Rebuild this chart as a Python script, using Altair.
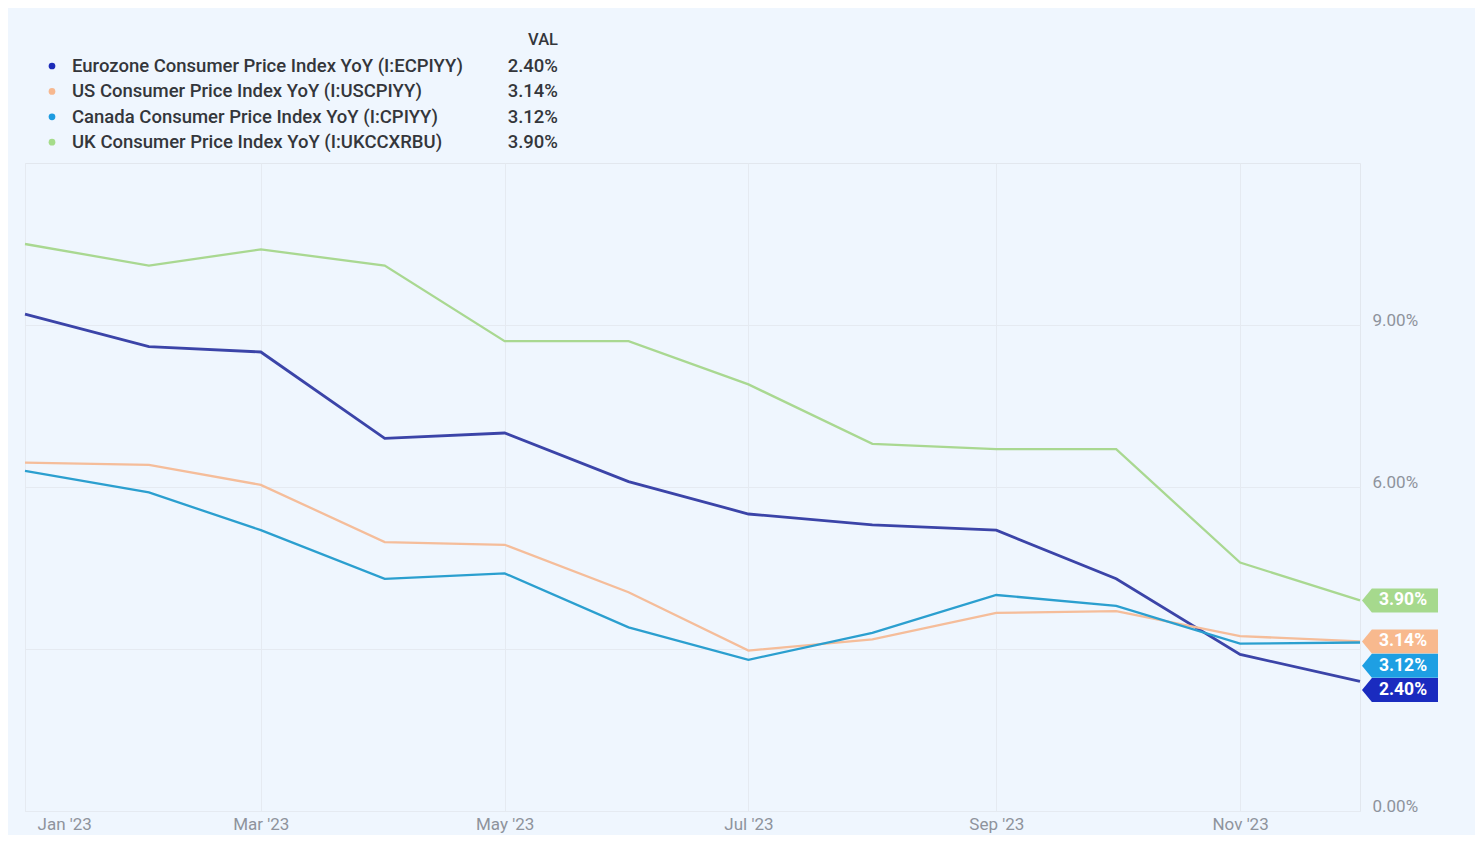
import altair as alt
import pandas as pd

# ---------------- data ----------------
months = ["2023-01-01", "2023-02-01", "2023-03-01", "2023-04-01", "2023-05-01", "2023-06-01",
          "2023-07-01", "2023-08-01", "2023-09-01", "2023-10-01", "2023-11-01", "2023-12-01"]

series_names = [
    "Eurozone Consumer Price Index YoY (I:ECPIYY)",
    "US Consumer Price Index YoY (I:USCPIYY)",
    "Canada Consumer Price Index YoY (I:CPIYY)",
    "UK Consumer Price Index YoY (I:UKCCXRBU)",
]
eurozone = [9.2, 8.6, 8.5, 6.9, 7.0, 6.1, 5.5, 5.3, 5.2, 4.3, 2.9, 2.40]
us = [6.45, 6.41, 6.04, 4.98, 4.93, 4.05, 2.97, 3.18, 3.67, 3.70, 3.24, 3.14]
canada = [6.3, 5.9, 5.2, 4.3, 4.4, 3.4, 2.8, 3.3, 4.0, 3.8, 3.1, 3.12]
uk = [10.5, 10.1, 10.4, 10.1, 8.7, 8.7, 7.9, 6.8, 6.7, 6.7, 4.6, 3.90]
values_list = [eurozone, us, canada, uk]

line_colors = ["#3b44a8", "#f5bd9a", "#2b9fcf", "#a9d891"]
dot_colors = ["#1c2bb8", "#f7b88f", "#1d9be0", "#a5dc8a"]
tag_colors = ["#1a2bbf", "#f8b98e", "#1e9fe3", "#a6d98d"]

y_ticks = [0, 3, 6, 9]
x_ticks = [1, 3, 5, 7, 9, 11]

FONT = "Roboto"
W, H = 1335, 648
TOP = 155

rows = []
for name, vals in zip(series_names, values_list):
    for d, v in zip(months, vals):
        rows.append({"date": d, "value": v, "series": name})
df = pd.DataFrame(rows)

# ---------------- lines ----------------
x_enc = alt.X(
    "date:T",
    scale=alt.Scale(type="utc",
                    domain=[alt.DateTime(year=2023, month=1, date=1, utc=True),
                            alt.DateTime(year=2023, month=12, date=1, utc=True)]),
    axis=alt.Axis(
        values=[alt.DateTime(year=2023, month=m, date=1, utc=True) for m in x_ticks],
        format="%b '%y", title=None, grid=True, gridColor="#e5eaf1", domain=False,
        ticks=False, labelPadding=5, labelFontSize=17, labelColor="#8e939c",
        labelFont=FONT, labelFlush=True, labelFlushOffset=-12,
    ),
)
y_enc = alt.Y(
    "value:Q",
    scale=alt.Scale(domain=[0, 12], nice=False, zero=False),
    axis=alt.Axis(
        orient="right", values=y_ticks, title=None, grid=True, gridColor="#e5eaf1",
        domain=False, ticks=False, labelPadding=12, labelBaseline="alphabetic",
        labelAlign="left", labelFontSize=17, labelColor="#8e939c", labelFont=FONT,
        labelExpr="datum.value == 3 ? '' : format(datum.value, '.2f') + '%'",
    ),
)

lines = alt.Chart(df).mark_line().encode(
    x=x_enc,
    y=y_enc,
    color=alt.Color("series:N", scale=alt.Scale(domain=series_names, range=line_colors), legend=None),
    strokeWidth=alt.condition(alt.datum.series == series_names[0], alt.value(2.8), alt.value(2.3)),
)

# ---------------- end tags (dodged) ----------------
last = [(name, vals[-1], tc) for name, vals, tc in zip(series_names, values_list, tag_colors)]
order = sorted(last, key=lambda t: -t[1])
tag_rows = []
prev = None
gap = 0.45
for name, v, tc in order:
    pos = v if prev is None else min(v, prev - gap)
    prev = pos
    tag_rows.append({"series": name, "pos": pos, "label": f"{v:.2f}%", "tc": tc})
df_tags = pd.DataFrame(tag_rows)

tag_path = "M-1,0L-0.74,-0.316L1,-0.316L1,0.316L-0.74,0.316Z"
tags = alt.Chart(df_tags).mark_point(
    shape=tag_path, size=5776, filled=True, opacity=1, strokeWidth=0
).encode(
    x=alt.value(W + 40),
    y=alt.Y("pos:Q"),
    color=alt.Color("tc:N", scale=None),
)
tag_text = alt.Chart(df_tags).mark_text(
    color="white", fontWeight="bold", fontSize=17.5, font=FONT, align="center", baseline="middle"
).encode(
    x=alt.value(W + 43),
    y=alt.Y("pos:Q"),
    text="label:N",
)

# ---------------- legend (top-left) ----------------
legend_layers = []
header = alt.Chart(pd.DataFrame({"t": ["VAL"]})).mark_text(
    align="right", baseline="middle", fontSize=16.5, fontWeight=500, font=FONT, color="#34363b"
).encode(x=alt.value(533), y=alt.value(-123), text="t:N")
legend_layers.append(header)
for i, (name, vals, dc) in enumerate(zip(series_names, values_list, dot_colors)):
    yy = -97 + 25.4 * i
    one = pd.DataFrame({"name": [name], "val": [f"{vals[-1]:.2f}%"]})
    legend_layers.append(
        alt.Chart(one).mark_circle(size=45, color=dc, opacity=1).encode(
            x=alt.value(27), y=alt.value(yy))
    )
    legend_layers.append(
        alt.Chart(one).mark_text(align="left", baseline="middle", fontSize=18.5, fontWeight=500,
                                 font=FONT, color="#34363b").encode(
            x=alt.value(47), y=alt.value(yy), text="name:N")
    )
    legend_layers.append(
        alt.Chart(one).mark_text(align="right", baseline="middle", fontSize=18.5, fontWeight=500,
                                 font=FONT, color="#34363b").encode(
            x=alt.value(533), y=alt.value(yy), text="val:N")
    )

chart = alt.layer(lines, tags, tag_text, *legend_layers).properties(
    width=W,
    height=H,
    background="#eff6fe",
    padding={"left": 17, "top": TOP, "right": 115, "bottom": 24},
    autosize=alt.AutoSizeParams(type="none"),
).configure_view(stroke="#e2e7ee", strokeWidth=1)

chart.save("out.html", embed_options={"renderer": "svg", "actions": False})
